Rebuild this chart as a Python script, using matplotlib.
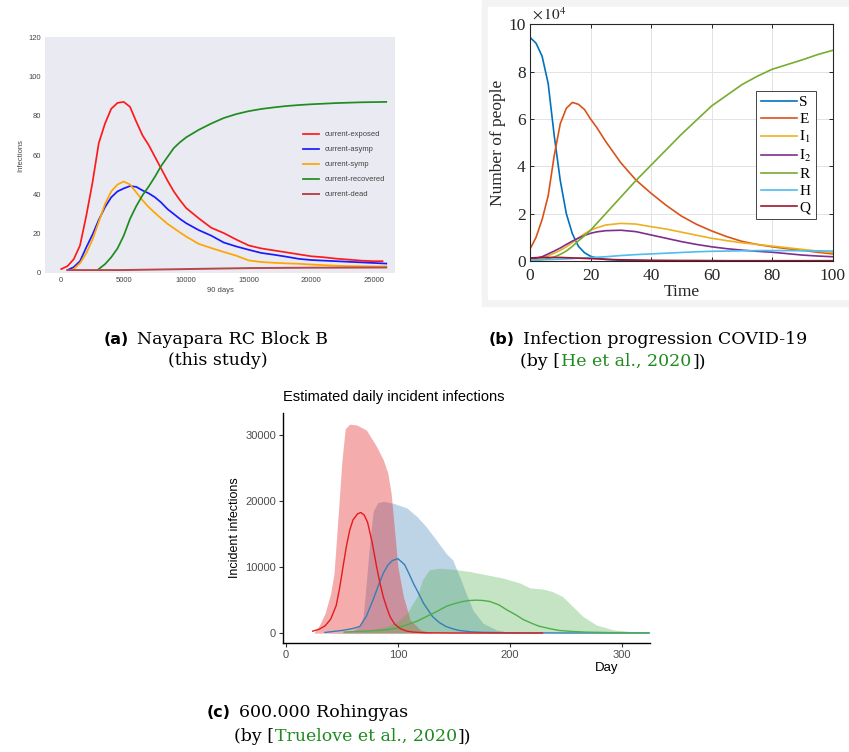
import matplotlib
matplotlib.use('Agg')
import matplotlib.pyplot as plt
from matplotlib.patches import Rectangle

plt.rcParams['mathtext.fontset'] = 'stix'

# ---------------- data: (a) Nayapara RC Block B ----------------
x_exposed = [0, 500, 1000, 1500, 2000, 2500, 3000, 3500, 4000, 4500, 5000, 5500, 6000,
             6500, 7000, 7500, 8000, 8500, 9000, 9500, 10000, 11000, 12000, 13000, 14000,
             15000, 16000, 17000, 18000, 19000, 20000, 21000, 22000, 23000, 24000, 25000, 25700]
exposed = [2, 3.5, 7, 14, 29, 46, 66, 76, 83.5, 86.5, 87, 84.5, 77, 70, 65, 59, 53, 47, 41.5,
           37, 33, 27.8, 23, 20.3, 17, 14, 12.5, 11.5, 10.5, 9.5, 8.5, 8, 7.3, 6.8, 6.3, 6, 6]

x_asymp = [500, 1000, 1500, 2000, 2500, 3000, 3500, 4000, 4500, 5000, 5500, 6000, 6500, 7000,
           7500, 8000, 8500, 9000, 9500, 10000, 11000, 12000, 13000, 14000, 15000, 16000,
           17000, 18000, 19000, 20000, 21000, 22000, 23000, 24000, 25000, 26000]
asymp = [1.5, 3, 6, 13, 19.5, 27, 33.5, 38.5, 41.5, 43, 44.2, 43.8, 42, 40.5, 38.5, 35.8, 32.5,
         30, 27.5, 25.3, 21.8, 19, 15.5, 13.5, 11.8, 10.2, 9.3, 8.3, 7.2, 6.6, 6.3, 6, 5.7,
         5.4, 5.1, 4.8]

x_symp = [1000, 1500, 2000, 2500, 3000, 3500, 4000, 4500, 5000, 5500, 6000, 6500, 7000, 7500,
          8000, 8500, 9000, 9500, 10000, 11000, 12000, 13000, 14000, 15000, 16000, 17000,
          18000, 19000, 20000, 21000, 22000, 23000, 24000, 25000, 26000]
symp = [2, 5, 10, 17, 26, 35, 41.5, 45, 46.5, 45, 41, 37, 33.5, 30.5, 27.7, 25, 22.8, 20.6,
        18.5, 14.8, 12.7, 10.7, 8.8, 6.4, 5.6, 5.2, 4.9, 4.7, 4.3, 4, 3.7, 3.5, 3.4, 3.3, 3.3]

x_recovered = [3000, 3500, 4000, 4500, 5000, 5500, 6000, 6500, 7000, 7500, 8000, 8500, 9000,
               9500, 10000, 11000, 12000, 13000, 14000, 15000, 16000, 17000, 18000, 19000,
               20000, 21000, 22000, 23000, 24000, 25000, 26000]
recovered = [2, 4.5, 8, 12.5, 19, 27.5, 34, 39.5, 44, 49, 54.5, 59, 63.5, 66.5, 69, 72.8, 76,
             78.8, 80.8, 82.3, 83.4, 84.2, 84.9, 85.4, 85.8, 86.1, 86.4, 86.6, 86.8, 86.9, 87]

x_dead = [500, 5000, 10000, 15000, 20000, 26000]
dead = [1.5, 1.5, 2, 2.5, 2.7, 2.8]

# ---------------- data: (b) He et al. 2020 ----------------
t_b = [0, 2, 4, 6, 8, 10, 12, 14, 16, 18, 20, 22, 25, 30, 35, 40, 45, 50, 55, 60, 65, 70,
       75, 80, 85, 90, 95, 100]
S = [9.45, 9.2, 8.65, 7.5, 5.3, 3.4, 2.0, 1.15, 0.62, 0.35, 0.2, 0.13, 0.07, 0.03, 0.015,
     0.01, 0.01, 0.01, 0.01, 0.01, 0.01, 0.01, 0.01, 0.01, 0.01, 0.01, 0.01, 0.01]
E = [0.5, 1.0, 1.75, 2.75, 4.45, 5.8, 6.45, 6.7, 6.62, 6.4, 6.0, 5.65, 5.05, 4.15, 3.42,
     2.86, 2.35, 1.9, 1.55, 1.27, 1.03, 0.83, 0.7, 0.6, 0.52, 0.45, 0.37, 0.3]
I1 = [0.0, 0.05, 0.12, 0.22, 0.33, 0.45, 0.6, 0.78, 0.97, 1.15, 1.3, 1.4, 1.52, 1.59, 1.56,
      1.45, 1.35, 1.22, 1.09, 0.96, 0.86, 0.77, 0.7, 0.63, 0.56, 0.49, 0.42, 0.35]
I2 = [0.1, 0.12, 0.18, 0.3, 0.42, 0.55, 0.7, 0.84, 0.97, 1.08, 1.17, 1.23, 1.28, 1.3, 1.24,
      1.1, 0.96, 0.82, 0.7, 0.6, 0.52, 0.46, 0.41, 0.37, 0.31, 0.25, 0.21, 0.18]
R = [0.02, 0.03, 0.06, 0.1, 0.17, 0.28, 0.42, 0.62, 0.85, 1.07, 1.3, 1.58, 2.0, 2.7, 3.4,
     4.05, 4.7, 5.35, 5.95, 6.55, 7.0, 7.45, 7.8, 8.1, 8.3, 8.5, 8.72, 8.9]
Hh = [0.03, 0.04, 0.05, 0.06, 0.07, 0.08, 0.09, 0.1, 0.12, 0.13, 0.15, 0.16, 0.18, 0.23,
      0.27, 0.3, 0.33, 0.36, 0.39, 0.41, 0.42, 0.43, 0.44, 0.44, 0.44, 0.43, 0.43, 0.42]
Q = [0.13, 0.14, 0.15, 0.15, 0.15, 0.15, 0.14, 0.13, 0.12, 0.11, 0.1, 0.09, 0.07, 0.05,
     0.04, 0.03, 0.025, 0.02, 0.02, 0.015, 0.01, 0.01, 0.01, 0.01, 0.01, 0.01, 0.01, 0.01]

# ---------------- data: (c) Truelove et al. 2020 ----------------
red_band_day = [25, 30, 35, 40, 43, 47, 50, 53, 57, 63, 72, 81, 87, 91, 94, 97, 100, 105,
                111, 120, 131]
red_band_hi = [0, 1200, 3000, 6000, 9000, 18500, 26000, 31000, 31700, 31600, 30800, 28300,
               26300, 24300, 21200, 15700, 10100, 5500, 2000, 500, 0]
blue_band_day = [35, 50, 60, 66, 69, 72, 75, 78, 82, 87, 96, 108, 117, 125, 134, 143, 149,
                 155, 161, 167, 176, 188, 200, 215]
blue_band_hi = [0, 100, 400, 1000, 2500, 8000, 14000, 18500, 19800, 20000, 19700, 19000,
                17700, 16200, 14200, 12100, 11100, 8600, 6000, 3500, 1500, 500, 100, 0]
green_band_day = [51, 70, 90, 100, 108, 117, 122, 128, 137, 149, 164, 179, 194, 209, 218,
                  229, 238, 247, 256, 265, 277, 292, 310, 325]
green_band_hi = [0, 300, 1000, 1800, 3000, 5500, 8100, 9600, 9850, 9700, 9350, 8850, 8350,
                 7600, 6850, 6700, 6300, 5550, 4050, 2550, 1250, 500, 200, 150]

red_day = [24, 30, 35, 40, 45, 48, 51, 54, 57, 60, 64, 67, 70, 73, 77, 81, 84, 87, 90, 93,
           97, 102, 108, 114, 125, 150, 200, 229]
red_val = [300, 600, 1100, 2100, 4200, 6800, 10000, 13100, 15600, 17200, 18100, 18300, 17900,
           16800, 13800, 10100, 7600, 5500, 3900, 2500, 1400, 700, 300, 150, 50, 20, 10, 10]
blue_day = [35, 50, 60, 66, 72, 78, 83, 87, 91, 95, 100, 106, 110, 114, 118, 123, 131, 137,
            143, 150, 155, 165, 175, 200, 250, 324]
blue_val = [100, 400, 700, 1000, 2600, 5100, 7400, 9100, 10300, 11000, 11300, 10400, 9000,
            7500, 6200, 4500, 2500, 1600, 1000, 600, 400, 200, 120, 50, 20, 20]
green_day = [52, 70, 90, 100, 108, 117, 126, 135, 143, 150, 158, 164, 170, 176, 182, 190,
             197, 205, 212, 220, 226, 235, 244, 256, 268, 290, 324]
green_val = [150, 300, 500, 800, 1260, 1800, 2550, 3300, 4050, 4450, 4800, 4950, 5000, 4950,
             4800, 4300, 3550, 2800, 2050, 1450, 1050, 700, 400, 250, 150, 80, 50]

W, H = 849, 752
fig = plt.figure(figsize=(W / 100, H / 100), dpi=100)


def box(l, t, r, b):
    # pixel box (from top-left) -> figure fraction rect
    return [l / W, 1 - b / H, (r - l) / W, (b - t) / H]


# ---------------- panel (a) ----------------
sans = 'Liberation Sans'
ax = fig.add_axes(box(45, 37, 395, 273))
ax.set_facecolor('#EAEAF2')
for s in ax.spines.values():
    s.set_visible(False)
ax.plot(x_exposed, exposed, color='#FF1A1A', lw=1.25, label='current-exposed')
ax.plot(x_asymp, asymp, color='#1A1AFF', lw=1.25, label='current-asymp')
ax.plot(x_symp, symp, color='#FFA500', lw=1.25, label='current-symp')
ax.plot(x_recovered, recovered, color='#1E8C1E', lw=1.25, label='current-recovered')
ax.plot(x_dead, dead, color='#B5484B', lw=1.4, label='current-dead')
ax.set_xlim(-1300, 26700)
ax.set_ylim(0, 120)
ax.set_xticks(range(0, 25001, 5000))
ax.set_yticks(range(0, 121, 20))
ax.tick_params(length=0, labelsize=5.5, labelcolor='#444444', pad=3)
for lab in ax.get_xticklabels() + ax.get_yticklabels():
    lab.set_family(sans)
ax.set_xlabel('90 days', fontsize=5.5, color='#444444', family=sans, labelpad=2)
ax.set_ylabel('Infections', fontsize=5.5, color='#444444', family=sans, labelpad=3)
leg = ax.legend(loc='center left', bbox_to_anchor=(0.736, 0.459), frameon=False,
                prop={'family': sans, 'size': 5.5}, handlelength=2.1, handletextpad=0.8,
                labelspacing=1.0, borderpad=0, borderaxespad=0)
for t in leg.get_texts():
    t.set_color('#444444')

# ---------------- panel (b) ----------------
fig.patches.append(Rectangle((482 / W, 1 - 306 / H), (W - 482) / W, 306 / H,
                             transform=fig.transFigure, color='#F3F3F3', zorder=-2))
fig.patches.append(Rectangle((488 / W, 1 - 299 / H), (W - 488) / W, 292 / H,
                             transform=fig.transFigure, color='white', zorder=-1))
serif = 'Liberation Serif'
ax2 = fig.add_axes(box(530, 24.3, 832.7, 261))
colors_b = ['#0072BD', '#D95319', '#EDB120', '#7E2F8E', '#77AC30', '#4DBEEE', '#A2142F']
labels_b = ['S', 'E', r'$\mathrm{I}_1$', r'$\mathrm{I}_2$', 'R', 'H', 'Q']
for series, c, lab in zip([S, E, I1, I2, R, Hh, Q], colors_b, labels_b):
    ax2.plot(t_b, series, color=c, lw=1.2, label=lab)
ax2.set_xlim(0, 100)
ax2.set_ylim(0, 10)
ax2.set_xticks(range(0, 101, 20))
ax2.set_yticks(range(0, 11, 2))
ax2.grid(True, color='#E3E3E3', lw=0.7)
ax2.set_axisbelow(True)
for s in ax2.spines.values():
    s.set_color('#262626')
    s.set_linewidth(0.8)
ax2.tick_params(direction='in', top=True, right=True, length=3, width=0.7,
                labelsize=12.5, colors='#262626')
ax2.tick_params(axis='x', pad=5)
ax2.tick_params(axis='y', pad=3)
for lab in ax2.get_xticklabels() + ax2.get_yticklabels():
    lab.set_family(serif)
ax2.set_xlabel('Time', fontsize=12.5, family=serif, color='#262626', labelpad=0)
ax2.set_ylabel('Number of people', fontsize=12.5, family=serif, color='#262626',
               labelpad=2)
ax2.text(0.005, 1.005, r'$\times\,10^{4}$', transform=ax2.transAxes, ha='left',
         va='bottom', fontsize=11, color='#262626')
leg2 = ax2.legend(loc='upper right', bbox_to_anchor=(0.945, 0.718), borderaxespad=0,
                  prop={'family': serif, 'size': 11}, handlelength=2.35, handletextpad=0.15,
                  labelspacing=0.2, borderpad=0.3, fancybox=False, framealpha=1,
                  edgecolor='#262626')
leg2.get_frame().set_linewidth(0.6)

# ---------------- panel (c) ----------------
ax3 = fig.add_axes(box(283, 413, 650, 643))
ax3.fill_between(blue_band_day, 0, blue_band_hi, color='#377EB8', alpha=0.33, lw=0)
ax3.fill_between(red_band_day, 0, red_band_hi, color='#E41A1C', alpha=0.36, lw=0)
ax3.fill_between(green_band_day, 0, green_band_hi, color='#4DAF4A', alpha=0.33, lw=0)
ax3.plot(blue_day, blue_val, color='#377EB8', lw=1.0)
ax3.plot(green_day, green_val, color='#4DAF4A', lw=1.0)
ax3.plot(red_day, red_val, color='#E41A1C', lw=1.0)
ax3.set_xlim(-2.5, 325)
ax3.set_ylim(-1500, 33400)
ax3.set_xticks([0, 100, 200, 300])
ax3.set_yticks([0, 10000, 20000, 30000])
ax3.spines['top'].set_visible(False)
ax3.spines['right'].set_visible(False)
for s in ['left', 'bottom']:
    ax3.spines[s].set_linewidth(1.0)
    ax3.spines[s].set_color('black')
ax3.tick_params(length=3, width=0.8, color='#333333', labelsize=8,
                labelcolor='#4D4D4D', pad=2)
for lab in ax3.get_xticklabels() + ax3.get_yticklabels():
    lab.set_family(sans)
ax3.set_ylabel('Incident infections', fontsize=9, family=sans, color='black', labelpad=3)
ax3.text(0.913, -0.109, 'Day', transform=ax3.transAxes, ha='right', va='center',
         fontsize=9.5, family=sans)
fig.text(283 / W, 1 - 397 / H, 'Estimated daily incident infections', ha='left',
         va='center', fontsize=10.5, family=sans)

# ---------------- captions ----------------
renderer = fig.canvas.get_renderer()
cap_font = {'family': 'DejaVu Serif', 'size': 12.5}
lab_font = {'family': 'DejaVu Sans', 'size': 11.5, 'weight': 'bold'}
cite_green = '#1F8A1F'


def caption(x, y, parts):
    # parts: (text, font dict, colour, gap in px after the piece)
    for s, font, col, gap in parts:
        t = fig.text(x / W, 1 - y / H, s, ha='left', va='baseline', color=col, **font)
        x = t.get_window_extent(renderer).x1 + gap


caption(104, 344, [('(a)', lab_font, 'black', 8),
                   ('Nayapara RC Block B', cap_font, 'black', 0)])
fig.text(218 / W, 1 - 365 / H, '(this study)', ha='center', va='baseline',
         color='black', **cap_font)
caption(489, 344, [('(b)', lab_font, 'black', 8),
                   ('Infection progression COVID-19', cap_font, 'black', 0)])
caption(520, 366, [('(by [', cap_font, 'black', 1),
                   ('He et al., 2020', cap_font, cite_green, 1),
                   ('])', cap_font, 'black', 0)])
caption(207, 717, [('(c)', lab_font, 'black', 8),
                   ('600.000 Rohingyas', cap_font, 'black', 0)])
caption(234, 741, [('(by [', cap_font, 'black', 1),
                   ('Truelove et al., 2020', cap_font, cite_green, 1),
                   ('])', cap_font, 'black', 0)])

fig.savefig('out.png', dpi=100)
